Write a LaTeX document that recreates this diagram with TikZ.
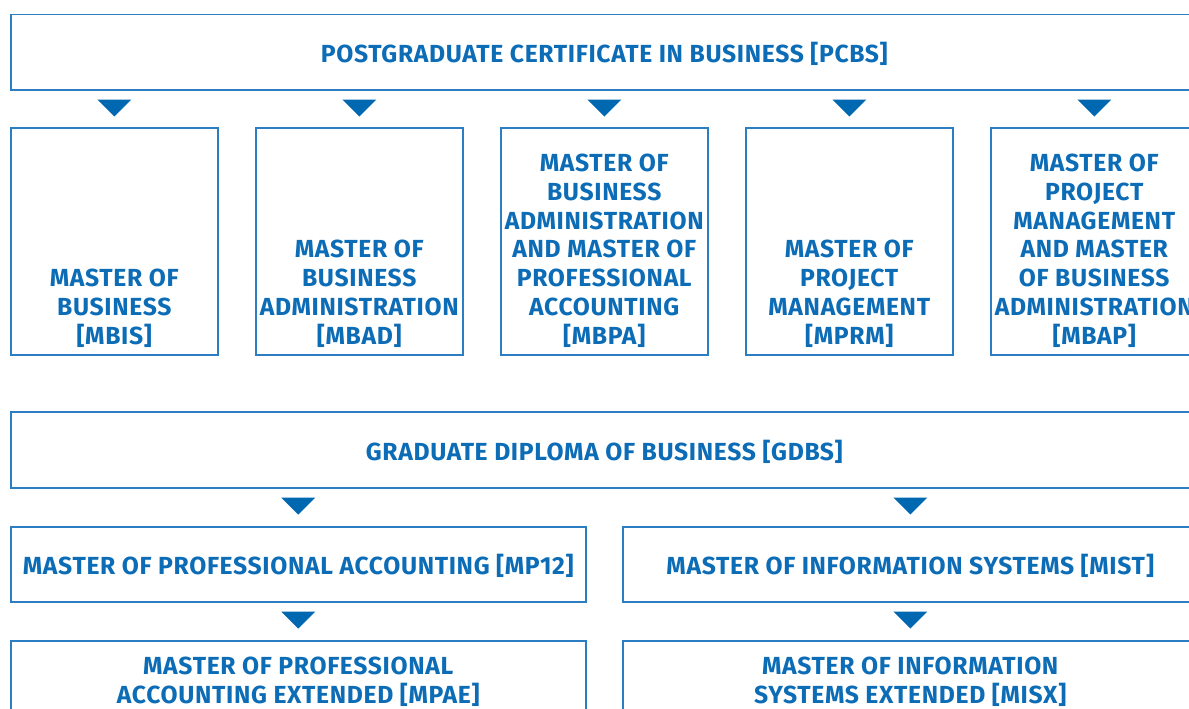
\documentclass[tikz,border=0pt]{standalone}
\usepackage{fontspec}
\setmainfont[LetterSpace=2.7]{Fira Sans}
\usetikzlibrary{calc, positioning}

\begin{document}
\begin{tikzpicture}[x=1pt, y=-1pt,
    box/.style={draw=boxline, line width=1.5pt, inner sep=0pt, anchor=north west},
    lbl/.style={text=textblue, font=\bfseries\fontsize{24.7}{28.8}\selectfont, align=center, inner sep=0pt},
    downtri/.pic={\fill[triblue] (-17,0) -- (17,0) -- (0,17) -- cycle;}
  ]
    % Colors
    \definecolor{boxline}{RGB}{45,125,195}
    \definecolor{textblue}{RGB}{12,108,182}
    \definecolor{triblue}{RGB}{0,103,177}

    % Page
    \useasboundingbox (0,0) rectangle (1189,709);
    \clip (0,0) rectangle (1189,709);

    % Postgraduate certificate
    \node[box, minimum width=1187, minimum height=75] (pcbs) at (10,14) {};
    \node[lbl] at ($(pcbs.center)+(0,2)$) {POSTGRADUATE CERTIFICATE IN BUSINESS [PCBS]};

    % Masters reached from the certificate
    \foreach \i/\name/\txt in {
        0/mbis/{MASTER OF\\BUSINESS\\{[MBIS]}},
        1/mbad/{MASTER OF\\BUSINESS\\ADMINISTRATION\\{[MBAD]}},
        2/mbpa/{MASTER OF\\BUSINESS\\ADMINISTRATION\\AND MASTER OF\\PROFESSIONAL\\ACCOUNTING\\{[MBPA]}},
        3/mprm/{MASTER OF\\PROJECT\\MANAGEMENT\\{[MPRM]}},
        4/mbap/{MASTER OF\\PROJECT\\MANAGEMENT\\AND MASTER\\OF BUSINESS\\ADMINISTRATION\\{[MBAP]}}} {
        \node[box, minimum width=207, minimum height=227] (\name) at (10+245*\i,127) {};
        \node[lbl, anchor=south] at ($(\name.south)+(0,-8)$) {\txt};
        \pic at ($(pcbs.south -| \name.north)+(0,9)$) {downtri};
    }

    % Graduate diploma
    \node[box, minimum width=1187, minimum height=76] (gdbs) at (10,411) {};
    \node[lbl] at ($(gdbs.center)+(0,2)$) {GRADUATE DIPLOMA OF BUSINESS [GDBS]};

    \node[box, minimum width=575, minimum height=75] (mp12) at (10,526) {};
    \node[lbl] at ($(mp12.center)+(0,2)$) {MASTER OF PROFESSIONAL ACCOUNTING [MP12]};
    \node[box, minimum width=575, minimum height=75] (mist) at (622,526) {};
    \node[lbl] at ($(mist.center)+(0,2)$) {MASTER OF INFORMATION SYSTEMS [MIST]};

    \node[box, minimum width=575, minimum height=100] (mpae) at (10,640) {};
    \node[lbl, anchor=north] at ($(mpae.north)+(0,17)$) {MASTER OF PROFESSIONAL\\ACCOUNTING EXTENDED [MPAE]};
    \node[box, minimum width=575, minimum height=100] (misx) at (622,640) {};
    \node[lbl, anchor=north] at ($(misx.north)+(0,17)$) {MASTER OF INFORMATION\\SYSTEMS EXTENDED [MISX]};

    % Arrows under the diploma
    \foreach \name in {mp12, mist} {
        \pic at ($(gdbs.south -| \name.north)+(0,9)$) {downtri};
    }
    \pic at ($(mp12.south -| mpae.north)+(0,9)$) {downtri};
    \pic at ($(mist.south -| misx.north)+(0,9)$) {downtri};
\end{tikzpicture}
\end{document}
